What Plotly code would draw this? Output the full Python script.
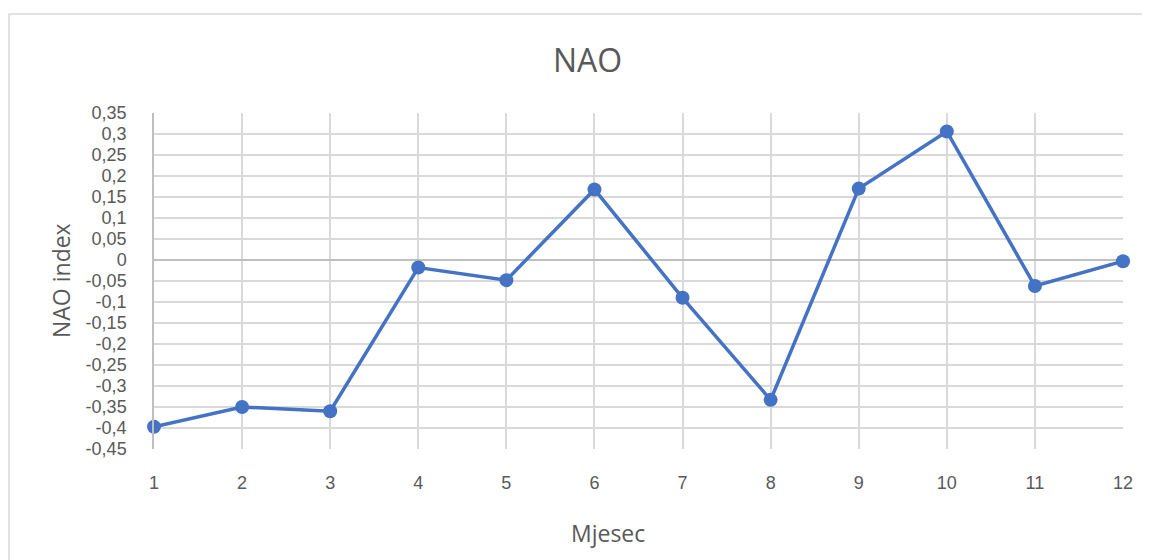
import plotly.graph_objects as go

# monthly NAO index
months = [1, 2, 3, 4, 5, 6, 7, 8, 9, 10, 11, 12]
nao = [-0.397, -0.35, -0.36, -0.018, -0.048, 0.168, -0.09, -0.333, 0.17, 0.306, -0.062, -0.003]

ytick_vals = [0.35, 0.3, 0.25, 0.2, 0.15, 0.1, 0.05, 0, -0.05, -0.1, -0.15, -0.2,
              -0.25, -0.3, -0.35, -0.4, -0.45]
ytick_text = ["0,35", "0,3", "0,25", "0,2", "0,15", "0,1", "0,05", "0", "-0,05", "-0,1",
              "-0,15", "-0,2", "-0,25", "-0,3", "-0,35", "-0,4", "-0,45"]

# the page body adds an 8px margin, so the figure is shrunk to fit the window
OFF = 8
W, H = 1150 - OFF, 560 - OFF
# plot area target in window pixels: x 154..1123, y 113..449
L, R, T, B = 154 - OFF, 1150 - 1123, 113 - OFF, 560 - 449
pw, ph = 1123 - 154, 449 - 113


def px_x(p):
    return (p - 154) / pw


def px_y(p):
    return (449 - p) / ph


txt = "#595959"
grid = "#d9d9d9"
font = "Open Sans, Liberation Sans, sans-serif"
# tighter line metrics so the densely packed y labels don't collide
tick_font = "Liberation Sans, Arial, sans-serif"

fig = go.Figure()
fig.add_trace(go.Scatter(
    x=months, y=nao, mode="lines+markers",
    line=dict(color="#4472C4", width=3.5),
    marker=dict(color="#4472C4", size=14),
    cliponaxis=False, showlegend=False,
))

fig.update_layout(
    width=W, height=H,
    margin=dict(l=L, r=R, t=T, b=B),
    paper_bgcolor="white", plot_bgcolor="white",
    font=dict(family=font, color=txt, size=18),
    xaxis=dict(
        range=[1, 12], tickvals=months, ticktext=[str(m) for m in months],
        showgrid=True, gridcolor=grid, gridwidth=1.5, zeroline=False,
        showline=False, ticks="",
        tickfont=dict(size=18, color=txt, family=tick_font),
        ticklabelstandoff=21, fixedrange=True,
    ),
    yaxis=dict(
        range=[-0.45, 0.35], tickvals=ytick_vals, ticktext=ytick_text,
        showgrid=True, gridcolor=grid, gridwidth=1.5,
        zeroline=True, zerolinecolor="#bfbfbf", zerolinewidth=1.5,
        showline=True, linecolor="#bfbfbf", linewidth=1.5, ticks="",
        tickfont=dict(size=18, color=txt, family=tick_font),
        ticklabelstandoff=22, fixedrange=True,
    ),
    shapes=[dict(
        type="rect", xref="paper", yref="paper",
        x0=px_x(9), x1=px_x(1170), y0=px_y(575), y1=px_y(14),
        line=dict(color="#d9d9d9", width=1.5), fillcolor="rgba(0,0,0,0)",
        layer="below",
    )],
    annotations=[
        dict(text="NAO", xref="paper", yref="paper", x=px_x(587), y=px_y(60),
             showarrow=False, xanchor="center", yanchor="middle",
             font=dict(size=32, color=txt, family=font)),
        dict(text="Mjesec", xref="paper", yref="paper", x=px_x(608), y=px_y(533),
             showarrow=False, xanchor="center", yanchor="middle",
             font=dict(size=23, color=txt, family=font)),
        dict(text="NAO index", xref="paper", yref="paper", x=px_x(61), y=px_y(281),
             showarrow=False, xanchor="center", yanchor="middle", textangle=-90,
             font=dict(size=23, color=txt, family=font)),
    ],
)

fig.write_html("out.html")
